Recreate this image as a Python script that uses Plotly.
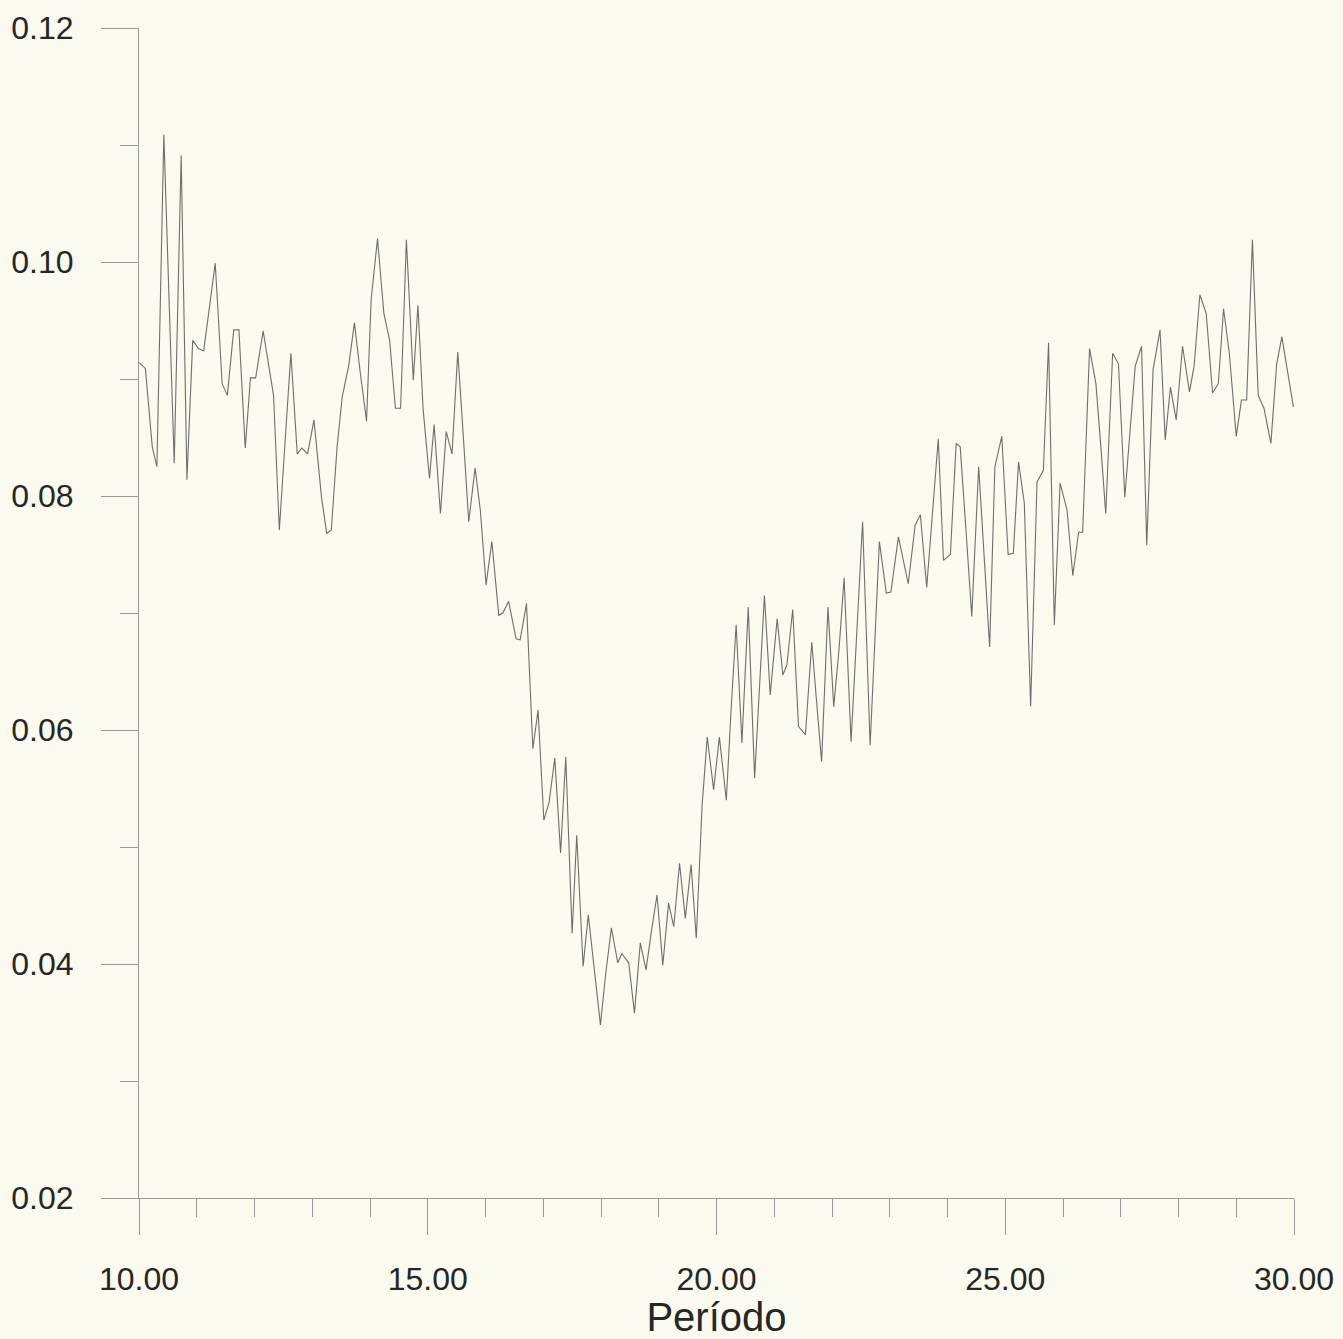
import plotly.graph_objects as go

# Period (x) and spectral value (y) of the series
periodo = [
    10.00, 10.11, 10.23, 10.31, 10.43, 10.61, 10.73, 10.83, 10.93, 11.03,
    11.12, 11.32, 11.44, 11.53, 11.64, 11.73, 11.84, 11.93, 12.02, 12.15,
    12.33, 12.43, 12.63, 12.74, 12.82, 12.92, 13.03, 13.16, 13.25, 13.33,
    13.43, 13.52, 13.63, 13.73, 13.83, 13.94, 14.02, 14.13, 14.24, 14.34,
    14.44, 14.53, 14.63, 14.70, 14.75, 14.83, 14.92, 15.03, 15.11, 15.22,
    15.32, 15.42, 15.52, 15.62, 15.71, 15.82, 15.91, 16.01, 16.11, 16.23,
    16.30, 16.40, 16.53, 16.60, 16.71, 16.82, 16.91, 17.01, 17.10, 17.20,
    17.30, 17.39, 17.50, 17.58, 17.69, 17.78, 17.88, 17.99, 18.08, 18.18,
    18.29, 18.36, 18.48, 18.58, 18.68, 18.78, 18.87, 18.97, 19.07, 19.17,
    19.26, 19.36, 19.46, 19.56, 19.65, 19.75, 19.84, 19.95, 20.05, 20.17,
    20.25, 20.34, 20.44, 20.55, 20.66, 20.74, 20.83, 20.93, 21.05, 21.15,
    21.22, 21.32, 21.42, 21.54, 21.65, 21.73, 21.82, 21.93, 22.03, 22.12,
    22.21, 22.33, 22.43, 22.53, 22.66, 22.82, 22.94, 23.02, 23.15, 23.23,
    23.32, 23.44, 23.53, 23.64, 23.73, 23.84, 23.93, 24.05, 24.15, 24.22,
    24.32, 24.42, 24.54, 24.63, 24.73, 24.82, 24.94, 25.05, 25.14, 25.23,
    25.33, 25.44, 25.55, 25.66, 25.75, 25.85, 25.95, 26.07, 26.17, 26.27,
    26.34, 26.46, 26.57, 26.66, 26.74, 26.86, 26.96, 27.07, 27.16, 27.25,
    27.36, 27.45, 27.56, 27.68, 27.77, 27.86, 27.96, 28.07, 28.19, 28.27,
    28.37, 28.48, 28.59, 28.69, 28.78, 28.88, 29.00, 29.09, 29.18, 29.28,
    29.38, 29.48, 29.60, 29.70, 29.79, 29.89, 29.99,
]

valor = [
    0.0914, 0.0909, 0.0842, 0.0825, 0.1109, 0.0828, 0.1091, 0.0814, 0.0933, 0.0926,
    0.0924, 0.0999, 0.0896, 0.0886, 0.0942, 0.0942, 0.0841, 0.0901, 0.0901, 0.0941,
    0.0886, 0.0771, 0.0922, 0.0836, 0.0841, 0.0836, 0.0865, 0.0799, 0.0768, 0.0771,
    0.0842, 0.0885, 0.0911, 0.0948, 0.0906, 0.0864, 0.0968, 0.1020, 0.0956, 0.0933,
    0.0875, 0.0875, 0.1019, 0.0945, 0.0899, 0.0963, 0.0874, 0.0815, 0.0861, 0.0785,
    0.0855, 0.0836, 0.0923, 0.0848, 0.0778, 0.0824, 0.0788, 0.0724, 0.0761, 0.0698,
    0.0700, 0.0710, 0.0678, 0.0677, 0.0708, 0.0584, 0.0617, 0.0523, 0.0538, 0.0576,
    0.0495, 0.0577, 0.0426, 0.0510, 0.0398, 0.0442, 0.0397, 0.0348, 0.0391, 0.0431,
    0.0401, 0.0409, 0.0401, 0.0358, 0.0418, 0.0395, 0.0427, 0.0459, 0.0399, 0.0452,
    0.0432, 0.0486, 0.0439, 0.0485, 0.0422, 0.0535, 0.0594, 0.0549, 0.0594, 0.0540,
    0.0615, 0.0690, 0.0589, 0.0705, 0.0559, 0.0638, 0.0715, 0.0630, 0.0695, 0.0647,
    0.0656, 0.0703, 0.0603, 0.0596, 0.0675, 0.0626, 0.0573, 0.0705, 0.0620, 0.0668,
    0.0730, 0.0590, 0.0685, 0.0778, 0.0587, 0.0761, 0.0717, 0.0718, 0.0765, 0.0745,
    0.0725, 0.0775, 0.0784, 0.0722, 0.0779, 0.0849, 0.0745, 0.0750, 0.0845, 0.0842,
    0.0771, 0.0697, 0.0825, 0.0750, 0.0671, 0.0825, 0.0851, 0.0750, 0.0751, 0.0829,
    0.0794, 0.0620, 0.0812, 0.0822, 0.0931, 0.0690, 0.0811, 0.0788, 0.0732, 0.0769,
    0.0769, 0.0926, 0.0896, 0.0839, 0.0785, 0.0922, 0.0913, 0.0799, 0.0856, 0.0911,
    0.0928, 0.0758, 0.0908, 0.0942, 0.0848, 0.0893, 0.0865, 0.0928, 0.0889, 0.0911,
    0.0972, 0.0956, 0.0888, 0.0896, 0.0960, 0.0922, 0.0851, 0.0882, 0.0882, 0.1019,
    0.0886, 0.0875, 0.0845, 0.0913, 0.0936, 0.0905, 0.0876,
]

x_ticks = [10, 15, 20, 25, 30]
y_ticks = [0.02, 0.04, 0.06, 0.08, 0.10, 0.12]

BG = "#FBFAEF"
AXIS = "#9a9a9a"
TEXT = "#262626"
FONT = "Liberation Sans, Arial, sans-serif"

fig = go.Figure()
fig.add_trace(go.Scatter(
    x=periodo, y=valor, mode="lines",
    line=dict(color="#6e6e6e", width=1.1),
    hoverinfo="x+y", showlegend=False,
))

fig.update_layout(
    width=1343, height=1339,
    paper_bgcolor=BG, plot_bgcolor=BG,
    margin=dict(l=139, r=49, t=28, b=141, pad=0),
    font=dict(family=FONT, size=32, color=TEXT),
    showlegend=False,
)

fig.update_xaxes(
    range=[10, 30], tickvals=x_ticks, tickformat=".2f",
    automargin=False,
    showline=True, linecolor=AXIS, linewidth=1,
    showgrid=False, zeroline=False,
    ticks="outside", ticklen=36, tickcolor=AXIS, tickwidth=1,
    ticklabelstandoff=17,
    tickfont=dict(size=32, family=FONT, color=TEXT),
    minor=dict(dtick=1, tick0=10, ticks="outside", ticklen=18,
               tickcolor=AXIS, tickwidth=1, showgrid=False),
    title=dict(text="Período", font=dict(size=40, family=FONT, color=TEXT),
               standoff=2),
)

fig.update_yaxes(
    range=[0.02, 0.12], tickvals=y_ticks, tickformat=".2f",
    automargin=False,
    showline=True, linecolor=AXIS, linewidth=1,
    showgrid=False, zeroline=False,
    ticks="outside", ticklen=37, tickcolor=AXIS, tickwidth=1,
    ticklabelstandoff=21,
    tickfont=dict(size=32, family=FONT, color=TEXT),
    minor=dict(dtick=0.01, tick0=0.02, ticks="outside", ticklen=18,
               tickcolor=AXIS, tickwidth=1, showgrid=False),
)

fig.write_html("out.html")
